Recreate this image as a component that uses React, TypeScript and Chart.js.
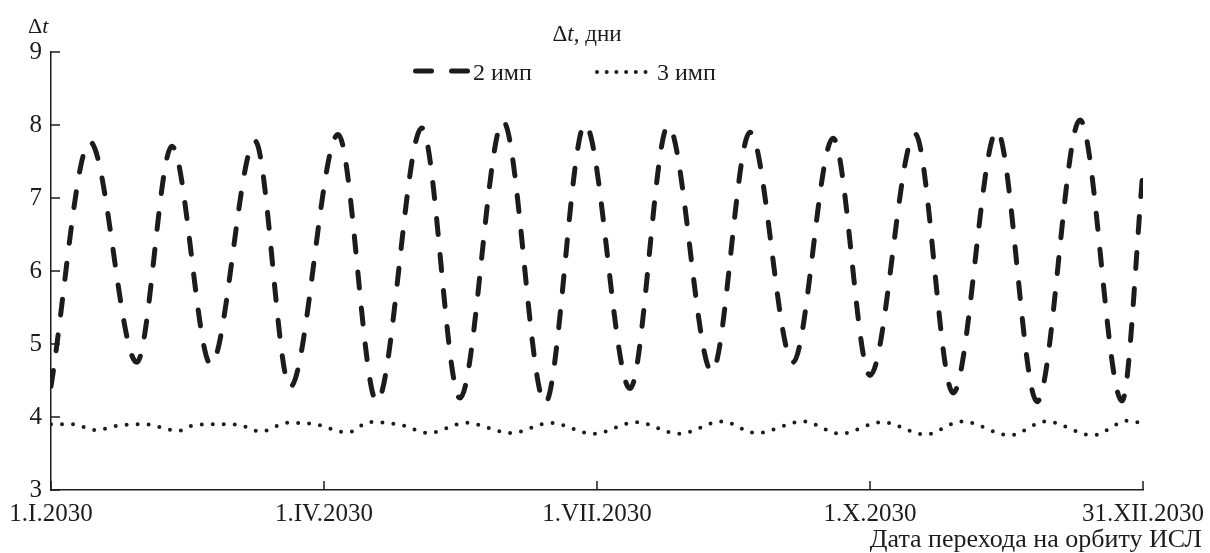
import React, { useEffect, useRef } from "react";
import { Chart, registerables } from "chart.js";

Chart.register(...registerables);

// ---- data ----
const xTickValues = [0, 91, 182, 273, 364];
const xTickLabels = ["1.I.2030", "1.IV.2030", "1.VII.2030", "1.X.2030", "31.XII.2030"];
const yTickValues = [3, 4, 5, 6, 7, 8, 9];

const seriesNames = ["2 имп", "3 имп"];
const xAxisTitle = "Дата перехода на орбиту ИСЛ";
const chartTitleParts = [
  { t: "Δ", italic: false },
  { t: "t", italic: true },
  { t: ", дни", italic: false },
];
const yAxisTitleParts = [
  { t: "Δ", italic: false },
  { t: "t", italic: true },
];

// day of year (0 = 1 Jan 2030)
const days2 = [0, 13.0, 28.6, 40.3, 53.3, 68.0, 79.7, 95.7, 108.6, 123.6, 136.3, 150.7, 164.7, 178.0, 193.0, 205.7, 220.3, 233.0, 247.3, 260.7, 273.0, 288.0, 300.7, 315.3, 328.7, 343.0, 357.0, 364];
const values2 = [4.42, 7.77, 4.75, 7.71, 4.72, 7.78, 4.41, 7.87, 4.21, 7.96, 4.26, 8.05, 4.19, 8.01, 4.39, 7.99, 4.62, 7.9, 4.75, 7.82, 4.57, 7.88, 4.33, 7.92, 4.21, 8.07, 4.22, 7.37];

const days3 = [0, 7.4, 14.8, 22.1, 31.3, 42.5, 47.8, 57, 62.7, 69.9, 79, 88, 98.9, 106.3, 116.7, 125.8, 138.3, 153.5, 166.5, 180.8, 195, 209.3, 223.7, 235, 250.8, 263, 277, 291.4, 303.7, 319.6, 331.7, 347.2, 359, 364];
const values3 = [3.9, 3.9, 3.82, 3.88, 3.9, 3.81, 3.89, 3.9, 3.89, 3.8, 3.92, 3.9, 3.79, 3.93, 3.89, 3.78, 3.92, 3.78, 3.92, 3.77, 3.93, 3.77, 3.94, 3.78, 3.94, 3.77, 3.93, 3.76, 3.94, 3.75, 3.94, 3.75, 3.95, 3.91];

const INK = "#1c1c1c";
const FONT = '"Liberation Serif", "Times New Roman", serif';
const DASH2 = [16, 20];
const DASH3 = [0, 11];

function drawRich(ctx: CanvasRenderingContext2D, parts: { t: string; italic: boolean }[], x: number, y: number, size: number, align: "left" | "center" | "right") {
  const widths = parts.map((p) => {
    ctx.font = `${p.italic ? "italic " : ""}${size}px ${FONT}`;
    return ctx.measureText(p.t).width;
  });
  const total = widths.reduce((a, b) => a + b, 0);
  let cx = align === "left" ? x : align === "center" ? x - total / 2 : x - total;
  ctx.textAlign = "left";
  ctx.textBaseline = "alphabetic";
  parts.forEach((p, i) => {
    ctx.font = `${p.italic ? "italic " : ""}${size}px ${FONT}`;
    ctx.fillText(p.t, cx, y);
    cx += widths[i];
  });
}

const decorPlugin = {
  id: "decor",
  afterDatasetsDraw(chart: any) {
    const { ctx, chartArea, scales } = chart;
    const xs = scales.x;
    const ys = scales.y;
    ctx.save();
    // inward ticks
    ctx.strokeStyle = INK;
    ctx.lineWidth = 1.5;
    ctx.setLineDash([]);
    ctx.beginPath();
    yTickValues.forEach((v) => {
      const py = ys.getPixelForValue(v);
      ctx.moveTo(chartArea.left, py);
      ctx.lineTo(chartArea.left + 9, py);
    });
    xTickValues.forEach((v) => {
      const px = xs.getPixelForValue(v);
      ctx.moveTo(px, chartArea.bottom);
      ctx.lineTo(px, chartArea.bottom - 9);
    });
    ctx.stroke();

    ctx.fillStyle = INK;
    // x tick labels
    ctx.font = `25px ${FONT}`;
    ctx.textAlign = "center";
    ctx.textBaseline = "alphabetic";
    xTickValues.forEach((v, i) => {
      ctx.fillText(xTickLabels[i], xs.getPixelForValue(v), chartArea.bottom + 31);
    });

    // x axis title (right aligned at canvas edge)
    ctx.font = `26px ${FONT}`;
    ctx.textAlign = "right";
    ctx.fillText(xAxisTitle, chart.width - 8, chartArea.bottom + 57);

    // y axis title
    drawRich(ctx, yAxisTitleParts, 28, 33, 22, "left");
    // chart title
    drawRich(ctx, chartTitleParts, 587, 41, 23, "center");

    // legend
    const ly = 71;
    ctx.lineCap = "round";
    ctx.strokeStyle = INK;
    ctx.lineWidth = 5;
    ctx.setLineDash(DASH2);
    ctx.beginPath();
    ctx.moveTo(415.5, ly);
    ctx.lineTo(467.5, ly);
    ctx.stroke();
    ctx.lineWidth = 4;
    ctx.setLineDash([0, 9.7]);
    ctx.beginPath();
    ctx.moveTo(597, ly + 1);
    ctx.lineTo(655, ly + 1);
    ctx.stroke();
    ctx.setLineDash([]);
    ctx.font = `24px ${FONT}`;
    ctx.textAlign = "left";
    ctx.fillText(seriesNames[0], 473, 80);
    ctx.fillText(seriesNames[1], 657, 80);
    ctx.restore();
  },
};

export default function App() {
  const ref = useRef<HTMLCanvasElement | null>(null);

  useEffect(() => {
    if (!ref.current) return;
    const chart = new Chart(ref.current, {
      type: "line",
      data: {
        datasets: [
          {
            label: seriesNames[0],
            data: days2.map((d, i) => ({ x: d, y: values2[i] })),
            borderColor: INK,
            borderWidth: 5,
            borderDash: DASH2,
            borderCapStyle: "round",
            pointRadius: 0,
            cubicInterpolationMode: "monotone",
            fill: false,
          },
          {
            label: seriesNames[1],
            data: days3.map((d, i) => ({ x: d, y: values3[i] })),
            borderColor: INK,
            borderWidth: 4,
            borderDash: DASH3,
            borderCapStyle: "round",
            pointRadius: 0,
            cubicInterpolationMode: "monotone",
            fill: false,
          },
        ],
      },
      options: {
        responsive: false,
        animation: false,
        events: [],
        layout: { padding: { top: 52, right: 67, bottom: 0, left: 0 } },
        plugins: {
          legend: { display: false },
          tooltip: { enabled: false },
          title: { display: false },
        },
        scales: {
          x: {
            type: "linear",
            min: 0,
            max: 364,
            afterBuildTicks: (s: any) => {
              s.ticks = xTickValues.map((v) => ({ value: v }));
            },
            afterFit: (s: any) => {
              s.height = 63;
            },
            ticks: { display: false },
            grid: { display: false, drawTicks: false },
            border: { display: true, color: INK, width: 1.5 },
          },
          y: {
            type: "linear",
            min: 3,
            max: 9,
            afterBuildTicks: (s: any) => {
              s.ticks = yTickValues.map((v) => ({ value: v }));
            },
            afterFit: (s: any) => {
              s.width = 51;
            },
            ticks: {
              font: { family: FONT, size: 25 },
              color: INK,
              padding: 9,
            },
            grid: { display: false, drawTicks: false },
            border: { display: true, color: INK, width: 1.5 },
          },
        },
      },
      plugins: [decorPlugin],
    } as any);
    return () => chart.destroy();
  }, []);

  return (
    <div style={{ position: "fixed", left: 0, top: 0, width: 1210, height: 553, background: "#fff" }}>
      <canvas ref={ref} width={1210} height={553} style={{ display: "block", width: 1210, height: 553 }} />
    </div>
  );
}
